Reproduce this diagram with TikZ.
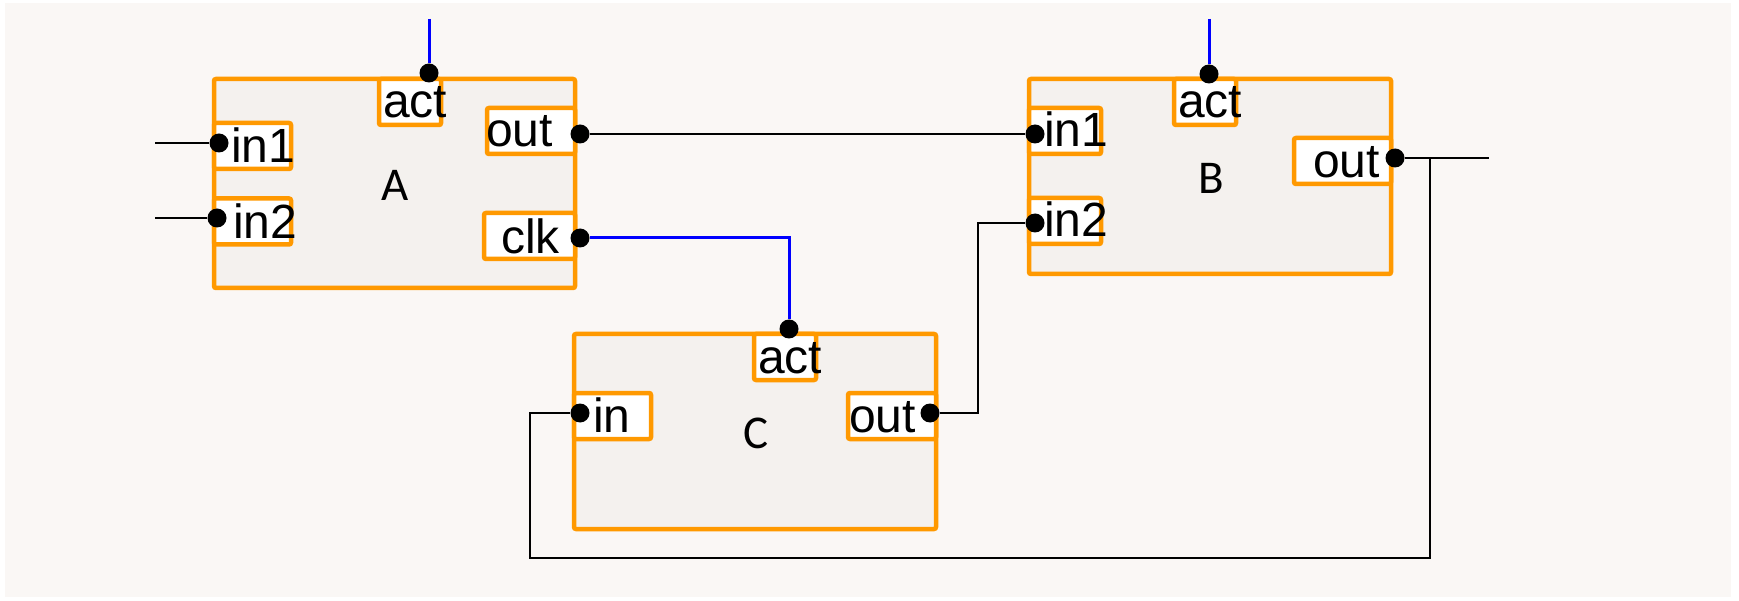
\documentclass[tikz,border=0pt]{standalone}
\usepackage{fontspec}
\setmainfont{Liberation Sans}
\newfontfamily\blockfont{Carlito}
\usetikzlibrary{positioning, calc}
\definecolor{portorange}{HTML}{FF9900}
\definecolor{blockfill}{HTML}{F4F1EE}
\definecolor{canvas}{HTML}{FAF7F5}

\begin{document}
\begin{tikzpicture}[
  x=1pt, y=-1pt,
  block/.style={draw=portorange, line width=4.5pt, fill=blockfill, rounded corners=2pt,
                inner sep=0, font=\blockfont\fontsize{47}{52}\selectfont},
  port/.style={draw=portorange, line width=4.5pt, fill=white, rounded corners=2pt,
               minimum height=46, inner sep=0},
  plabel/.style={anchor=base west, inner sep=0, font=\fontsize{48}{52}\selectfont},
  pin/.style={circle, fill=black, inner sep=0, minimum size=19},
  wire/.style={black, line width=1.5pt},
  ctrl/.style={blue, line width=3pt}
]
\useasboundingbox (0,0) rectangle (1739,601);
\fill[canvas] (5,3) rectangle (1731,597);

% blocks
\node[block, minimum width=361, minimum height=209] (A) at (394.5,183.5) {};
\node[block, minimum width=362, minimum height=195] (B) at (1210,176.5) {};
\node[block, minimum width=362, minimum height=195] (C) at (755,431.5) {};
\node[font=\blockfont\fontsize{47}{52}\selectfont, inner sep=0] (A-txt) at (395,185) {A};
\node[font=\blockfont\fontsize{47}{52}\selectfont, inner sep=0] (B-txt) at (1211,178) {B};
\node[font=\blockfont\fontsize{47}{52}\selectfont, inner sep=0] (C-txt) at (756,433) {C};

% ports
\foreach \n/\cx/\cy/\w/\tx/\ty/\t in {
    a-act/410/102/62/383/118/act, a-in1/252.5/146/77/231/163/in1,
    a-in2/252.5/221.5/77/233/239/in2, a-out/531/131/88/486/147/out,
    a-clk/529.5/236/91/501/254/clk,
    b-act/1205/102/62/1178/118/act, b-in1/1065/131/72/1044/147/in1,
    b-in2/1065/221/72/1044/237/in2, b-out/1342.5/161/97/1313/178/out,
    c-act/785/357/62/758/373/act, c-in/612.5/416/77/593/432/in,
    c-out/892/416/88/849/432/out} {
  \node[port, minimum width=\w] (\n) at (\cx,\cy) {};
  \node[plabel] (\n-txt) at (\tx,\ty) {\t};
}

% pins
\foreach \n/\x/\y in {a-act/429/73, a-in1/219/143, a-in2/217/218, a-out/580/134,
    a-clk/580/238, b-act/1209/74, b-in1/1035/134, b-in2/1035/223, b-out/1395/158,
    c-act/789/329, c-in/580/413, c-out/930/413} {
  \node[pin] (\n-p) at (\x,\y) {};
}

% free ends
\coordinate (a-in1-end) at (155,143);
\coordinate (a-in2-end) at (155,218);
\coordinate (b-out-end) at (1489,158);
\coordinate (a-act-end) at (429,19);
\coordinate (b-act-end) at (1209,19);
\coordinate (loop-se) at (1430,558);
\coordinate (loop-sw) at (530,558);

% wires (data)
\draw[wire] (a-in1-end) -- (a-in1-p);
\draw[wire] (a-in2-end) -- (a-in2-p);
\draw[wire] (a-out-p) -- (b-in1-p);
\draw[wire] (c-out-p) -- ++(48,0) |- (b-in2-p);
\draw[wire] (b-out-p) -- (b-out-end);
\draw[wire] (b-out-p) -| (loop-se) -- (loop-sw) |- (c-in-p);

% activation and clock (blue)
\draw[ctrl] (a-act-end) -- (a-act-p);
\draw[ctrl] (b-act-end) -- (b-act-p);
\draw[ctrl] (a-clk-p) -| (c-act-p);
\end{tikzpicture}
\end{document}
